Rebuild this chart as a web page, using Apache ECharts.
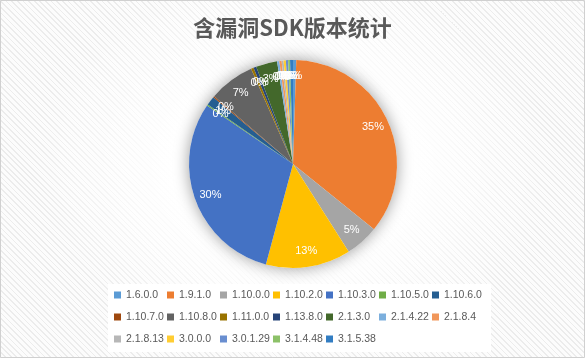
<!DOCTYPE html>
<html>
<head>
<meta charset="utf-8">
<script src="https://cdn.jsdelivr.net/npm/echarts@6/dist/echarts.min.js"></script>
<style>
  html, body { margin: 0; padding: 0; background: #fff; }
  #chart {
    width: 585px; height: 358px;
    background:
      radial-gradient(ellipse 260px 200px at 50% 46%, rgba(255,255,255,1) 45%, rgba(255,255,255,0) 100%),
      repeating-linear-gradient(45deg, #ececec 0px, #ececec 1.2px, #fcfcfc 1.2px, #fcfcfc 4px);
  }
</style>
</head>
<body>
<div id="chart"></div>
<script>
const titleText = '含漏洞SDK版本统计';
const categories = ['1.6.0.0','1.9.1.0','1.10.0.0','1.10.2.0','1.10.3.0','1.10.5.0','1.10.6.0',
  '1.10.7.0','1.10.8.0','1.11.0.0','1.13.8.0','2.1.3.0','2.1.4.22','2.1.8.4',
  '2.1.8.13','3.0.0.0','3.0.1.29','3.1.4.48','3.1.5.38'];
const shares = [0.5, 35.3, 5.2, 13.2, 30.3, 0.2, 1.4,
  0.2, 7.1, 0.4, 0.45, 3.3, 0.35, 0.35,
  0.3, 0.35, 0.35, 0.3, 0.45];
const colors = ['#5B9BD5','#ED7D31','#A5A5A5','#FFC000','#4472C4','#70AD47','#255E91',
  '#9E480E','#636363','#997300','#264478','#43682B','#7CAFDD','#F1975A',
  '#B7B7B7','#FFCD33','#698ED0','#8CC168','#327DC2'];

const chart = echarts.init(document.getElementById('chart'), null, {renderer: 'canvas'});
const pieData = categories.map((c, i) => ({name: c, value: shares[i], itemStyle: {color: colors[i]}}));
const center = [293, 164];
const R = 104;

chart.setOption({
  backgroundColor: 'transparent',
  color: colors,
  title: {
    text: titleText,
    left: 'center',
    top: 12,
    textStyle: {
      fontFamily: '"Noto Sans CJK SC", sans-serif',
      fontSize: 22,
      fontWeight: 'bold',
      color: '#595959'
    }
  },
  legend: {
    data: categories,
    left: 108,
    top: 284,
    width: 390,
    padding: [0, 6, 2, 6],
    backgroundColor: '#ffffff',
    itemWidth: 7,
    itemHeight: 7,
    itemGap: 0,
    icon: 'rect',
    selectedMode: false,
    textStyle: {
      fontFamily: '"Liberation Sans", Arial, sans-serif',
      fontSize: 10.5,
      color: '#595959',
      width: 41,
      height: 22,
      lineHeight: 22
    }
  },
  graphic: [{
    type: 'rect',
    silent: true,
    shape: {x: 0.5, y: 0.5, width: 584, height: 357},
    style: {fill: 'none', stroke: '#d0d0d0', lineWidth: 1}
  }],
  series: [
    {
      name: 'shadow',
      type: 'pie',
      silent: true,
      center: center,
      radius: [0, R],
      label: {show: false},
      labelLine: {show: false},
      data: [{value: 1, name: '__shadow', itemStyle: {color: '#ffffff', shadowBlur: 16, shadowColor: 'rgba(0,0,0,0.4)'}}],
      z: 1
    },
    {
      name: titleText,
      type: 'pie',
      center: center,
      radius: [0, R],
      startAngle: 90,
      clockwise: true,
      avoidLabelOverlap: false,
      label: {show: false},
      labelLine: {show: false},
      emphasis: {disabled: true},
      data: pieData,
      z: 2
    },
    {
      name: 'labels',
      type: 'pie',
      silent: true,
      center: center,
      radius: [66, R],
      startAngle: 90,
      clockwise: true,
      avoidLabelOverlap: false,
      labelLayout: {hideOverlap: false},
      itemStyle: {color: 'rgba(0,0,0,0)'},
      label: {
        show: true,
        position: 'inside',
        color: '#ffffff',
        fontFamily: '"Liberation Sans", Arial, sans-serif',
        fontSize: 11,
        formatter: p => Math.round(p.percent) + '%'
      },
      labelLine: {show: false},
      data: categories.map((c, i) => ({name: c, value: shares[i], itemStyle: {color: 'rgba(0,0,0,0)'}})),
      z: 3
    }
  ]
});
</script>
</body>
</html>
